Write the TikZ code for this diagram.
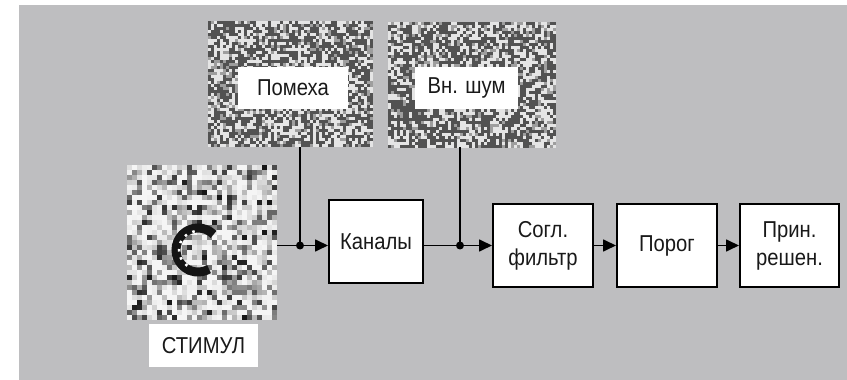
\documentclass[tikz,border=0pt]{standalone}
\usepackage{fontspec}
\setmainfont{Liberation Sans}[FakeStretch=0.88]
\usetikzlibrary{arrows.meta}
\newcommand\blkfont{\fontsize{23}{28}\selectfont}
\definecolor{panel}{RGB}{190,190,192}
\tikzset{
  blok/.style={draw, line width=2pt, fill=white, inner sep=0, align=center, font=\blkfont, text=black!90},
  lbl/.style={fill=white, inner sep=0, font=\blkfont, text=black!90},
  junc/.style={circle, fill, inner sep=0, minimum size=8pt},
  conn/.style={line width=1.7pt},
  arr/.style={conn, -{Triangle[length=13pt,width=12pt]}},
}
\begin{document}
\begin{tikzpicture}[x=1pt, y=1pt]
  \useasboundingbox (0,0) rectangle (847,380);
  \fill[panel] (19,0) rectangle (847,375);
  % noise patches
  \pgfmathsetseed{11}
  \foreach \i in {0,...,54}{\foreach \j in {0,...,41}{
    \pgfmathsetmacro\g{rnd<0.48 ? 68 : (rnd<0.25 ? 38 : 10)}
    \fill[black!\g] (208+3*\i, 233+3*\j) rectangle ++(3,3);
  }}
  \foreach \i in {0,...,55}{\foreach \j in {0,...,41}{
    \pgfmathsetmacro\g{rnd<0.48 ? 68 : (rnd<0.25 ? 38 : 10)}
    \fill[black!\g] (388+3*\i, 232+3*\j) rectangle ++(3,3);
  }}
  \foreach \i in {0,...,29}{\foreach \j in {0,...,30}{
    \pgfmathsetmacro\r{rnd}
    \pgfmathsetmacro\g{int(4+88*\r*\r*\r)}
    \fill[black!\g] (127+5*\i, 60+5*\j) rectangle ++(5,5);
  }}
  \draw[line width=9pt, black!92] ([shift={(45:22)}]198,130) arc[start angle=45, end angle=300, radius=22];
  \draw[line width=2.5pt, white, dash pattern=on 2.5pt off 6pt] ([shift={(100:19)}]198,130) arc[start angle=100, end angle=250, radius=19];
  % nodes
  \node (pomPatch) [minimum width=165pt, minimum height=126pt, inner sep=0] at (290.5,296) {};
  \node (shumPatch) [minimum width=168pt, minimum height=126pt, inner sep=0] at (472,296) {};
  \node (stimPatch) [minimum width=150pt, minimum height=155pt, inner sep=0] at (202,137.5) {};
  \node (pomLbl) [lbl, minimum width=110pt, minimum height=42pt] at (293,292) {Помеха};
  \node (shumLbl) [lbl, minimum width=103pt, minimum height=42pt] at (466.5,292) {Вн. шум};
  \node (stimLbl) [lbl, minimum width=109pt, minimum height=43pt] at (203.5,34.5) {СТИМУЛ};
  \node (kanaly) [blok, minimum width=94pt, minimum height=83pt] at (376,138.5) {Каналы};
  \node (filtr) [blok, minimum width=100pt, minimum height=83pt] at (543,134.5) {Согл.\\фильтр};
  \node (porog) [blok, minimum width=100pt, minimum height=83pt] at (667,134.5) {Порог};
  \node (resh) [blok, minimum width=99pt, minimum height=83pt] at (789.5,134.5) {Прин.\\решен.};
  \node (j1) [junc] at (300,134.5) {};
  \node (j2) [junc] at (460,134.5) {};
  % connectors
  \draw[conn] (j1 |- pomPatch.south) -- (j1.center);
  \draw[conn] (j2 |- shumPatch.south) -- (j2.center);
  \draw[conn] (stimPatch.east |- j1) -- (j1.center);
  \draw[arr] (j1.center) -- (j1 -| kanaly.west);
  \draw[conn] (kanaly.east |- j2) -- (j2.center);
  \draw[arr] (j2.center) -- (filtr.west);
  \draw[arr] (filtr) -- (porog);
  \draw[arr] (porog) -- (resh);
\end{tikzpicture}
\end{document}
